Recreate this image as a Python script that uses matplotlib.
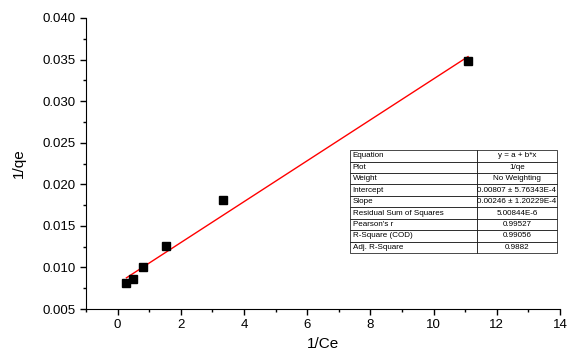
import numpy as np
import matplotlib.pyplot as plt
from matplotlib.ticker import MultipleLocator

plt.rcParams['font.family'] = ['Liberation Sans', 'DejaVu Sans']

inv_ce = [0.28, 0.49, 0.80, 1.54, 3.33, 11.09]
inv_qe = [0.0081, 0.00857, 0.0100, 0.01254, 0.01807, 0.03477]
intercept = 0.00807
slope = 0.00246

table_rows = [
    ["Equation", "y = a + b*x"],
    ["Plot", "1/qe"],
    ["Weight", "No Weighting"],
    ["Intercept", "0.00807 \u00b1 5.76343E-4"],
    ["Slope", "0.00246 \u00b1 1.20229E-4"],
    ["Residual Sum of Squares", "5.00844E-6"],
    ["Pearson's r", "0.99527"],
    ["R-Square (COD)", "0.99056"],
    ["Adj. R-Square", "0.9882"],
]

fig = plt.figure(figsize=(5.83, 3.52), dpi=100)
ax = fig.add_axes([0.1475, 0.122, 0.813, 0.827])

xfit = np.array([min(inv_ce), max(inv_ce)])
ax.plot(xfit, intercept + slope * xfit, color='red', lw=1)
ax.plot(inv_ce, inv_qe, 's', color='black', ms=6, zorder=3)

ax.set_xlim(-1, 14)
ax.set_ylim(0.005, 0.040)
ax.xaxis.set_major_locator(MultipleLocator(2))
ax.xaxis.set_minor_locator(MultipleLocator(1))
ax.yaxis.set_major_locator(MultipleLocator(0.005))
ax.yaxis.set_minor_locator(MultipleLocator(0.0025))
ax.yaxis.set_major_formatter(plt.FormatStrFormatter('%.3f'))
ax.tick_params(which='major', direction='out', length=4, width=1, labelsize=9.5)
ax.tick_params(which='minor', direction='out', length=2.5, width=1)
for s in ['top', 'right']:
    ax.spines[s].set_visible(False)
ax.set_xlabel("1/Ce", fontsize=11)
ax.set_ylabel("1/qe", fontsize=11, labelpad=12)

tbl = ax.table(cellText=table_rows, bbox=[0.557, 0.192, 0.437, 0.354],
               colWidths=[0.612, 0.388], cellLoc='left')
tbl.auto_set_font_size(False)
tbl.set_fontsize(5.8)
for (r, c), cell in tbl.get_celld().items():
    cell.set_linewidth(0.5)
    cell.PAD = 0.02
    if c == 1:
        cell.get_text().set_ha('center')
        cell._loc = 'center'

fig.savefig("out.png", dpi=100)
